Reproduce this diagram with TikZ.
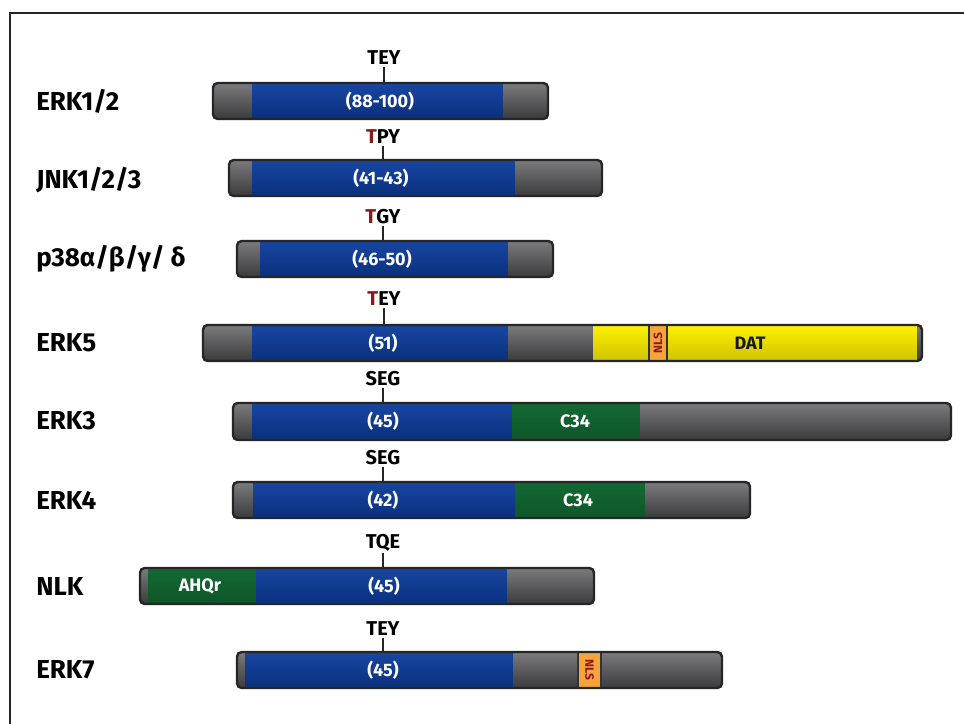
\documentclass[tikz,border=0pt]{standalone}
\usepackage{fontspec}
\setmainfont{Fira Sans}
\usepackage{tikz}
\usetikzlibrary{positioning}

\definecolor{kinblue}{HTML}{0C3C9C}
\definecolor{kingray}{HTML}{5A5A5E}
\definecolor{kingreen}{HTML}{136A33}
\definecolor{kinyellow}{HTML}{FFF200}
\definecolor{kinorange}{HTML}{F5A43A}
\definecolor{kinred}{HTML}{8A1A1A}

\begin{document}
\begin{tikzpicture}[x=0.75pt, y=-0.75pt,
  kname/.style={anchor=west, inner sep=0pt, font=\fontsize{19.5}{20}\selectfont\bfseries},
  site/.style={inner sep=1pt, font=\fontsize{15}{16}\selectfont\bfseries},
  tick/.style={line width=2pt, black!85},
  inbar/.style={text=white, font=\fontsize{13.5}{14}\selectfont\bfseries},
  nls/.style={text=kinred, inner sep=0pt, font=\fontsize{9}{9}\selectfont\bfseries},
  barline/.style={draw=black!85, line width=1.8pt, rounded corners=3.5pt},
  gseg/.style={top color=kingray!80!white, bottom color=kingray!65!black},
  bseg/.style={top color=kinblue!95!white, bottom color=kinblue!80!black},
  cseg/.style={top color=kingreen, bottom color=kingreen!80!black},
  yseg/.style={top color=kinyellow, bottom color=kinyellow!80!black},
  oseg/.style={fill=kinorange, draw=black!80, line width=0.8pt}
]
  \useasboundingbox (0,0) rectangle (964,724);
  \fill[white] (0,0) rectangle (964,724);
  % frame, cut at the right and lower edge
  \draw[line width=1.9pt, black!85] (964,13) -- (10,13) -- (10,724);

  % kinase names
  \node[kname] (n1) at (36,101) {ERK1/2};
  \node[kname] (n2) at (36,180) {JNK1/2/3};
  \node[kname] (n3) at (36,259) {p38α/β/γ/ δ};
  \node[kname] (n4) at (36,343) {ERK5};
  \node[kname] (n5) at (36,421) {ERK3};
  \node[kname] (n6) at (36,500) {ERK4};
  \node[kname] (n7) at (36,586) {NLK};
  \node[kname] (n8) at (36,670) {ERK7};

  % ERK1/2
  \begin{scope}
    \clip[rounded corners=3.5pt] (213,83) rectangle (548,119);
    \shade[gseg] (213,83) rectangle (252,119);
    \shade[bseg] (252,83) rectangle (503,119);
    \shade[gseg] (503,83) rectangle (548,119);
  \end{scope}
  \draw[barline] (213,83) rectangle (548,119);
  \node[inbar] (d1) at (380,101) {(88-100)};
  \coordinate (b1) at (384,83);
  \node[site] (s1) at (384,58) {TEY};
  \draw[tick] (s1.south) -- (b1);

  % JNK1/2/3
  \begin{scope}
    \clip[rounded corners=3.5pt] (229,160) rectangle (602,196);
    \shade[gseg] (229,160) rectangle (252,196);
    \shade[bseg] (252,160) rectangle (515,196);
    \shade[gseg] (515,160) rectangle (602,196);
  \end{scope}
  \draw[barline] (229,160) rectangle (602,196);
  \node[inbar] (d2) at (381,178) {(41-43)};
  \coordinate (b2) at (383,160);
  \node[site] (s2) at (383,137) {\textcolor{kinred}{T}PY};
  \draw[tick] (s2.south) -- (b2);

  % p38
  \begin{scope}
    \clip[rounded corners=3.5pt] (237,241) rectangle (553,277);
    \shade[gseg] (237,241) rectangle (260,277);
    \shade[bseg] (260,241) rectangle (508,277);
    \shade[gseg] (508,241) rectangle (553,277);
  \end{scope}
  \draw[barline] (237,241) rectangle (553,277);
  \node[inbar] (d3) at (382,259) {(46-50)};
  \coordinate (b3) at (383,241);
  \node[site] (s3) at (383,217) {\textcolor{kinred}{T}GY};
  \draw[tick] (s3.south) -- (b3);

  % ERK5
  \begin{scope}
    \clip[rounded corners=3.5pt] (203,325) rectangle (922,361);
    \shade[gseg] (203,325) rectangle (252,361);
    \shade[bseg] (252,325) rectangle (508,361);
    \shade[gseg] (508,325) rectangle (593,361);
    \shade[yseg] (593,325) rectangle (917,361);
    \shade[gseg] (917,325) rectangle (922,361);
  \end{scope}
  \draw[oseg] (649,325) rectangle (667,361);
  \draw[barline] (203,325) rectangle (922,361);
  \node[nls, rotate=90] (l4) at (658,343) {NLS};
  \node[inbar] (d4) at (383,343) {(51)};
  \node[inbar, text=black!90] (t4) at (750,343) {DAT};
  \coordinate (b4) at (384,325);
  \node[site] (s4) at (384,299) {\textcolor{kinred}{T}EY};
  \draw[tick] (s4.south) -- (b4);

  % ERK3
  \begin{scope}
    \clip[rounded corners=3.5pt] (233,403) rectangle (951,440);
    \shade[gseg] (233,403) rectangle (252,440);
    \shade[bseg] (252,403) rectangle (512,440);
    \shade[cseg] (512,403) rectangle (640,440);
    \shade[gseg] (640,403) rectangle (951,440);
  \end{scope}
  \draw[barline] (233,403) rectangle (951,440);
  \node[inbar] (d5) at (383,421) {(45)};
  \node[inbar] (c5) at (575,421) {C34};
  \coordinate (b5) at (383,403);
  \node[site] (s5) at (383,379) {SEG};
  \draw[tick] (s5.south) -- (b5);

  % ERK4
  \begin{scope}
    \clip[rounded corners=3.5pt] (233,482) rectangle (750,518);
    \shade[gseg] (233,482) rectangle (253,518);
    \shade[bseg] (253,482) rectangle (515,518);
    \shade[cseg] (515,482) rectangle (645,518);
    \shade[gseg] (645,482) rectangle (750,518);
  \end{scope}
  \draw[barline] (233,482) rectangle (750,518);
  \node[inbar] (d6) at (383,500) {(42)};
  \node[inbar] (c6) at (578,500) {C34};
  \coordinate (b6) at (383,482);
  \node[site] (s6) at (383,458) {SEG};
  \draw[tick] (s6.south) -- (b6);

  % NLK
  \begin{scope}
    \clip[rounded corners=3.5pt] (140,568) rectangle (594,604);
    \shade[gseg] (140,568) rectangle (148,604);
    \shade[cseg] (148,568) rectangle (256,604);
    \shade[bseg] (256,568) rectangle (507,604);
    \shade[gseg] (507,568) rectangle (594,604);
  \end{scope}
  \draw[barline] (140,568) rectangle (594,604);
  \node[inbar] (a7) at (200,586) {AHQr};
  \node[inbar] (d7) at (384,586) {(45)};
  \coordinate (b7) at (383,568);
  \node[site] (s7) at (383,543) {TQE};
  \draw[tick] (s7.south) -- (b7);

  % ERK7
  \begin{scope}
    \clip[rounded corners=3.5pt] (237,652) rectangle (722,688);
    \shade[gseg] (237,652) rectangle (245,688);
    \shade[bseg] (245,652) rectangle (513,688);
    \shade[gseg] (513,652) rectangle (722,688);
  \end{scope}
  \draw[oseg] (578,652) rectangle (601,688);
  \draw[barline] (237,652) rectangle (722,688);
  \node[nls, rotate=-90] (l8) at (589.5,670) {NLS};
  \node[inbar] (d8) at (383,670) {(45)};
  \coordinate (b8) at (383,652);
  \node[site] (s8) at (383,629) {TEY};
  \draw[tick] (s8.south) -- (b8);
\end{tikzpicture}
\end{document}
